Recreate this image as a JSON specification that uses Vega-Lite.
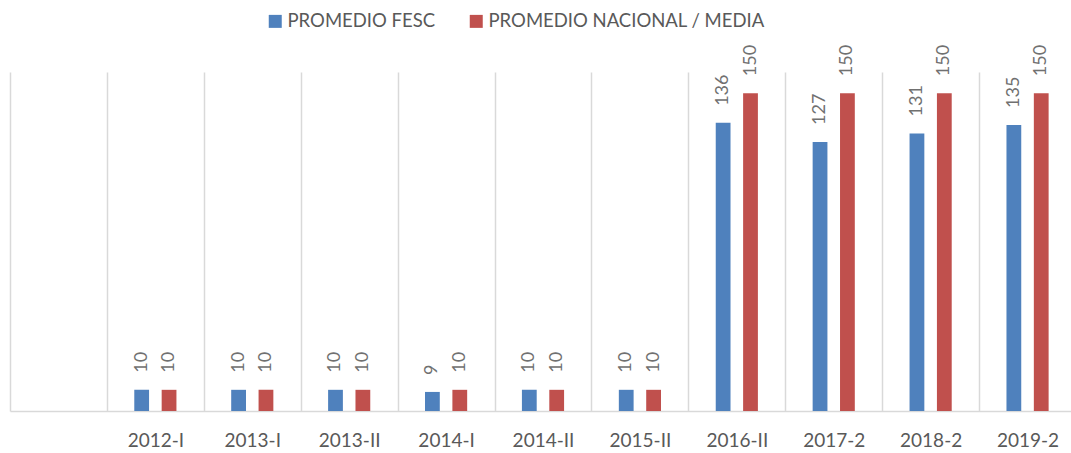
{
  "$schema": "https://vega.github.io/schema/vega-lite/v6.json",
  "width": 1061,
  "height": 339,
  "autosize": {"type": "none"},
  "padding": {"left": 10, "top": 72, "right": 0, "bottom": 42},
  "background": "white",
  "config": {"view": {"stroke": null}, "font": "Lato"},
  "data": {
    "values": [
      {"periodo": "2012-I", "serie": "PROMEDIO FESC", "valor": 10},
      {"periodo": "2012-I", "serie": "PROMEDIO NACIONAL / MEDIA", "valor": 10},
      {"periodo": "2013-I", "serie": "PROMEDIO FESC", "valor": 10},
      {"periodo": "2013-I", "serie": "PROMEDIO NACIONAL / MEDIA", "valor": 10},
      {"periodo": "2013-II", "serie": "PROMEDIO FESC", "valor": 10},
      {"periodo": "2013-II", "serie": "PROMEDIO NACIONAL / MEDIA", "valor": 10},
      {"periodo": "2014-I", "serie": "PROMEDIO FESC", "valor": 9},
      {"periodo": "2014-I", "serie": "PROMEDIO NACIONAL / MEDIA", "valor": 10},
      {"periodo": "2014-II", "serie": "PROMEDIO FESC", "valor": 10},
      {"periodo": "2014-II", "serie": "PROMEDIO NACIONAL / MEDIA", "valor": 10},
      {"periodo": "2015-II", "serie": "PROMEDIO FESC", "valor": 10},
      {"periodo": "2015-II", "serie": "PROMEDIO NACIONAL / MEDIA", "valor": 10},
      {"periodo": "2016-II", "serie": "PROMEDIO FESC", "valor": 136},
      {"periodo": "2016-II", "serie": "PROMEDIO NACIONAL / MEDIA", "valor": 150},
      {"periodo": "2017-2", "serie": "PROMEDIO FESC", "valor": 127},
      {"periodo": "2017-2", "serie": "PROMEDIO NACIONAL / MEDIA", "valor": 150},
      {"periodo": "2018-2", "serie": "PROMEDIO FESC", "valor": 131},
      {"periodo": "2018-2", "serie": "PROMEDIO NACIONAL / MEDIA", "valor": 150},
      {"periodo": "2019-2", "serie": "PROMEDIO FESC", "valor": 135},
      {"periodo": "2019-2", "serie": "PROMEDIO NACIONAL / MEDIA", "valor": 150}
    ]
  },
  "encoding": {
    "x": {
      "field": "periodo",
      "type": "nominal",
      "sort": null,
      "scale": {
        "domain": [" ", "2012-I", "2013-I", "2013-II", "2014-I", "2014-II", "2015-II", "2016-II", "2017-2", "2018-2", "2019-2"],
        "range": [0, 1066],
        "paddingInner": 0,
        "paddingOuter": 0
      },
      "axis": {
        "title": null,
        "ticks": false,
        "grid": true,
        "tickBand": "extent",
        "gridColor": "#d9d9d9",
        "gridWidth": 1.5,
        "domainColor": "#d9d9d9",
        "domainWidth": 1.5,
        "labelAngle": 0,
        "labelFont": "Lato",
        "labelFontSize": 19,
        "labelColor": "#595959",
        "labelPadding": 20
      }
    },
    "xOffset": {
      "field": "serie",
      "type": "nominal",
      "sort": ["PROMEDIO FESC", "PROMEDIO NACIONAL / MEDIA"],
      "scale": {"paddingInner": 0.46, "paddingOuter": 1.168}
    },
    "y": {
      "field": "valor",
      "type": "quantitative",
      "scale": {"domain": [0, 160], "nice": false},
      "axis": null
    }
  },
  "layer": [
    {
      "mark": {"type": "bar"},
      "encoding": {
        "color": {
          "field": "serie",
          "type": "nominal",
          "sort": ["PROMEDIO FESC", "PROMEDIO NACIONAL / MEDIA"],
          "scale": {"domain": ["PROMEDIO FESC", "PROMEDIO NACIONAL / MEDIA"], "range": ["#4f81bd", "#c0504d"]},
          "legend": {
            "title": null,
            "orient": "none",
            "direction": "horizontal",
            "legendX": 256,
            "legendY": -60,
            "padding": 0,
            "symbolType": "square",
            "symbolSize": 169,
            "symbolStrokeWidth": 0,
            "symbolOpacity": 1,
            "labelFont": "Lato",
            "labelFontSize": 18.5,
            "labelColor": "#595959",
            "labelOffset": 3,
            "columnPadding": 31,
            "labelLimit": 400
          }
        }
      }
    },
    {
      "mark": {"type": "text", "angle": -90, "align": "left", "baseline": "middle", "dx": 17, "font": "Lato", "fontSize": 18, "color": "#707070"},
      "encoding": {"text": {"field": "valor", "type": "quantitative"}}
    }
  ]
}
